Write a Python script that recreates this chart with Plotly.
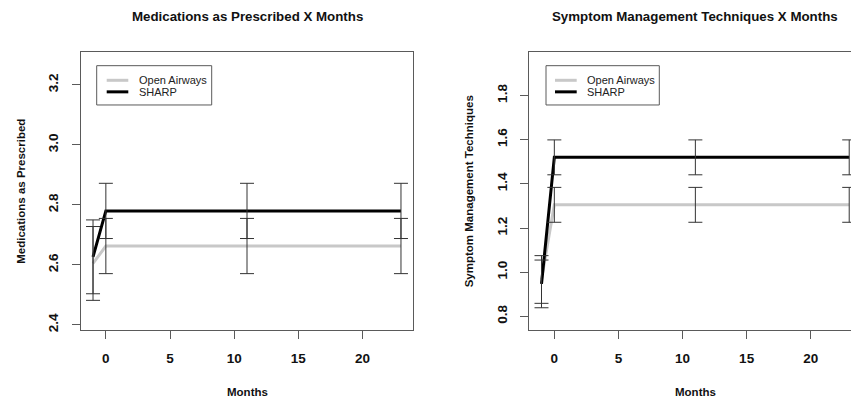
import plotly.graph_objects as go

# ---------------- data ----------------
months = [-1, 0, 11, 23]

# Medications as Prescribed
oa_med = [2.605, 2.663, 2.663, 2.663]
oa_med_err = [0.123, 0.092, 0.092, 0.092]
sharp_med = [2.627, 2.780, 2.780, 2.780]
sharp_med_err = [0.123, 0.092, 0.092, 0.092]

# Symptom Management Techniques
oa_smt = [0.967, 1.305, 1.305, 1.305]
oa_smt_err = [0.108, 0.079, 0.079, 0.079]
sharp_smt = [0.947, 1.520, 1.520, 1.520]
sharp_smt_err = [0.108, 0.079, 0.079, 0.079]

x_ticks = [0, 5, 10, 15, 20]
med_ticks = [2.4, 2.6, 2.8, 3.0, 3.2]
smt_ticks = [0.8, 1.0, 1.2, 1.4, 1.6, 1.8]
series_names = ["Open Airways", "SHARP"]

W, H = 851, 406
FONT = "Liberation Sans, Arial, Helvetica, sans-serif"
GRAY_LINE = "#c8c8c8"
AX = "#5a5a5a"
ERR = "#333333"


def fx(px):
    return px / W


def fy(py):
    return 1 - py / H


fig = go.Figure()


def add_panel(xa, ya, oa, oa_err, sh, sh_err):
    fig.add_trace(go.Scatter(x=months, y=oa, mode="lines", name=series_names[0],
                             line=dict(color=GRAY_LINE, width=3), xaxis=xa, yaxis=ya,
                             showlegend=False))
    fig.add_trace(go.Scatter(x=months, y=sh, mode="lines", name=series_names[1],
                             line=dict(color="#000000", width=3), xaxis=xa, yaxis=ya,
                             showlegend=False))
    for vals, errs, nm in ((oa, oa_err, series_names[0]), (sh, sh_err, series_names[1])):
        fig.add_trace(go.Scatter(x=months, y=vals, mode="markers", name=nm + " error",
                                 marker=dict(size=1, opacity=0), xaxis=xa, yaxis=ya,
                                 showlegend=False, hoverinfo="skip",
                                 error_y=dict(type="data", array=errs, symmetric=True,
                                              color=ERR, thickness=1, width=7)))


add_panel("x", "y", oa_med, oa_med_err, sharp_med, sharp_med_err)
add_panel("x2", "y2", oa_smt, oa_smt_err, sharp_smt, sharp_smt_err)

tickfont = dict(family=FONT, size=13.5, color="#111111", weight="bold")
ydom = [fy(331.7), fy(52.7)]

common_x = dict(tickvals=x_ticks, ticktext=[str(v) for v in x_ticks], ticks="outside",
                ticklen=8, tickcolor=AX, tickwidth=1, showline=True, linecolor=AX,
                linewidth=1, showgrid=False, zeroline=False, tickfont=tickfont,
                ticklabelstandoff=8)
common_y = dict(ticks="outside", ticklen=8, tickcolor=AX, tickwidth=1, showline=True,
                linecolor=AX, linewidth=1, showgrid=False, zeroline=False,
                tickfont=tickfont, tickangle=-90, ticklabelstandoff=8)

fig.update_layout(
    width=W, height=H,
    margin=dict(l=0, r=0, t=0, b=0),
    paper_bgcolor="white", plot_bgcolor="white",
    font=dict(family=FONT, color="#111111"),
    xaxis=dict(domain=[fx(80.7), fx(413.3)], range=[-1.96, 23.96], anchor="y",
               mirror=True, **common_x),
    yaxis=dict(domain=ydom, range=[2.383, 3.308], anchor="x", mirror=True,
               tickvals=med_ticks, ticktext=[f"{v:.1f}" for v in med_ticks], **common_y),
    xaxis2=dict(domain=[fx(529.2), 1.0], range=[-1.96, 23.14], anchor="y2",
                mirror=True, **common_x),
    yaxis2=dict(domain=ydom, range=[0.738, 1.995], anchor="x2", mirror=False,
                tickvals=smt_ticks, ticktext=[f"{v:.1f}" for v in smt_ticks], **common_y),
    showlegend=False,
)

annotations = []
titles = [("Medications as Prescribed X Months", 247, 16.5),
          ("Symptom Management Techniques X Months", 695, 16.5)]
for t, x, y in titles:
    annotations.append(dict(text=t, x=fx(x), y=fy(y), xref="paper", yref="paper",
                            xanchor="center", yanchor="middle", showarrow=False,
                            font=dict(family=FONT, size=13.3, color="#111111", weight="bold")))
for x in (247, 695):
    annotations.append(dict(text="Months", x=fx(x), y=fy(394.3), xref="paper", yref="paper",
                            xanchor="center", yanchor="middle", showarrow=False,
                            font=dict(family=FONT, size=11.5, color="#111111", weight="bold")))
for t, x in (("Medications as Prescribed", 20.7), ("Symptom Management Techniques", 469.3)):
    annotations.append(dict(text=t, x=fx(x), y=fy(192), xref="paper", yref="paper",
                            xanchor="center", yanchor="middle", showarrow=False, textangle=-90,
                            font=dict(family=FONT, size=11.5, color="#111111", weight="bold")))

shapes = []
# manual legends
for (bx0, bx1, lx0, lx1, tx) in ((96.7, 211.7, 106.7, 128.3, 136.7),
                                  (546.0, 659.3, 555.0, 576.7, 585.0)):
    shapes.append(dict(type="rect", xref="paper", yref="paper", x0=fx(bx0), x1=fx(bx1),
                       y0=fy(105.5), y1=fy(66), line=dict(color=AX, width=1),
                       fillcolor="white"))
    for nm, col, yy in ((series_names[0], GRAY_LINE, 80.7), (series_names[1], "#000000", 92.3)):
        shapes.append(dict(type="line", xref="paper", yref="paper", x0=fx(lx0), x1=fx(lx1),
                           y0=fy(yy), y1=fy(yy), line=dict(color=col, width=3)))
        annotations.append(dict(text=nm, x=fx(tx), y=fy(yy), xref="paper", yref="paper",
                                xanchor="left", yanchor="middle", showarrow=False,
                                font=dict(family=FONT, size=11, color="#222222")))

fig.update_layout(annotations=annotations, shapes=shapes)
fig.write_html("out.html", config={"displayModeBar": False},
               post_script="document.body.style.margin='0';document.body.style.overflow='hidden';")
